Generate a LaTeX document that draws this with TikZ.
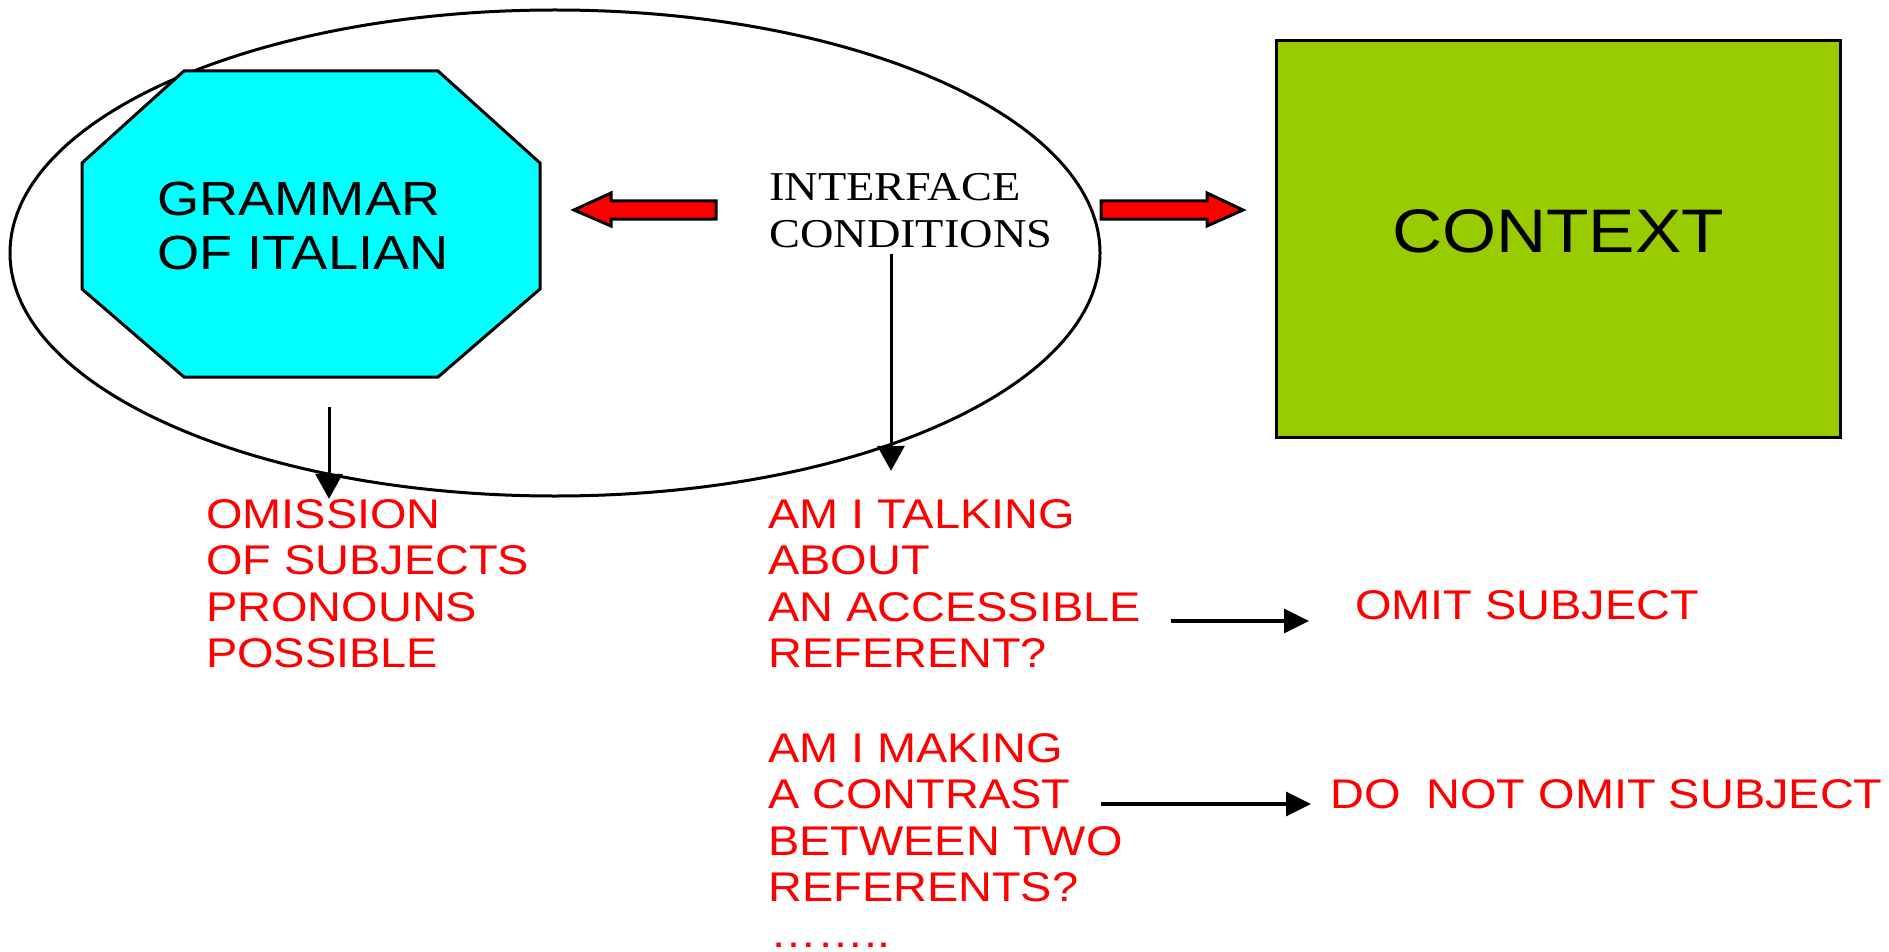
\documentclass[tikz,border=0pt]{standalone}
\usepackage{fontspec}
\setmainfont{Liberation Sans}[FakeStretch=1.13]
\newfontfamily\timesface{Liberation Serif}[FakeStretch=1.13]
\usetikzlibrary{arrows.meta,calc}
\definecolor{ctxgreen}{HTML}{99CC00}
\definecolor{gramcyan}{HTML}{00FFFF}
\definecolor{notered}{HTML}{FF0000}

\begin{document}
\begin{tikzpicture}[x=1pt,y=-1pt,
  % multi-line nodes sit on the baseline of their last line
  redtext/.style={text=notered, font=\fontsize{41.5}{46.5}\selectfont,
    inner sep=0pt, align=left, anchor=base west},
  outline/.style={draw=black, line width=3pt},
  downarrow/.style={draw=black, line width=3pt,
    -{Triangle[length=25pt,width=27pt]}},
  sidearrow/.style={draw=black, line width=3.5pt,
    -{Triangle[length=25pt,width=24pt]}},
  blockarrow/.style={fill=notered, draw=black, line width=3pt, line join=miter}
]
\useasboundingbox (0,0) rectangle (1889,952);

% enclosing ellipse
\draw[outline] (555,253) ellipse [x radius=545, y radius=243];

% octagon with the grammar label
\filldraw[outline, fill=gramcyan]
  (184,71) -- (438,71) -- (540,163) -- (540,289) -- (438,377)
  -- (184,377) -- (82,289) -- (82,163) -- cycle;
\node[font=\fontsize{48}{54}\selectfont, align=left, anchor=base west,
  inner sep=0pt] (grammar) at (157,269) {GRAMMAR\\OF ITALIAN};

% interface conditions
\node[font=\timesface\fontsize{41}{47}\selectfont, align=left,
  anchor=base west, inner sep=0pt] (iface) at (769,247)
  {INTERFACE\\CONDITIONS};

% context box
\node[outline, fill=ctxgreen, minimum width=564pt, minimum height=397pt,
  inner sep=0pt, text depth=16pt, font=\fontsize{61.5}{70}\selectfont]
  (context) at (1558,239) {CONTEXT};

% block arrows from the interface
\path[blockarrow] (716,201) -- (611,201) -- (611,193) -- (574,210)
  -- (611,226) -- (611,219) -- (716,219) -- cycle;
\path[blockarrow] (1101,201) -- (1207,201) -- (1207,193) -- (1243,210)
  -- (1207,226) -- (1207,219) -- (1101,219) -- cycle;

% red annotations
\node[redtext] (omission) at (206,667.5)
  {OMISSION\\OF SUBJECTS\\PRONOUNS\\POSSIBLE};
\node[redtext] (q1) at (768,667.5)
  {AM I TALKING\\ABOUT\\AN ACCESSIBLE\\REFERENT?};
\node[redtext] (q2) at (768,901.5)
  {AM I MAKING\\A CONTRAST\\BETWEEN TWO\\REFERENTS?};
\node[redtext] (more) at (770,947) {……..};
\node[redtext] (omit) at (1355,619) {OMIT SUBJECT};
\node[redtext] (keep) at (1330,808) {DO\ \ NOT OMIT SUBJECT};

% connectors
\coordinate (gout) at (329,407);
\draw[downarrow] (gout) -- (gout |- omission.north);
\coordinate (iout) at (891,254);
\draw[downarrow, shorten >=28pt] (iout) -- (iout |- q1.north);
\coordinate (a1) at (1171,621);
\draw[sidearrow, shorten >=46pt] (a1) -- (a1 -| omit.west);
\coordinate (a2) at (1101,804);
\draw[sidearrow, shorten >=19pt] (a2) -- (a2 -| keep.west);
\end{tikzpicture}
\end{document}
